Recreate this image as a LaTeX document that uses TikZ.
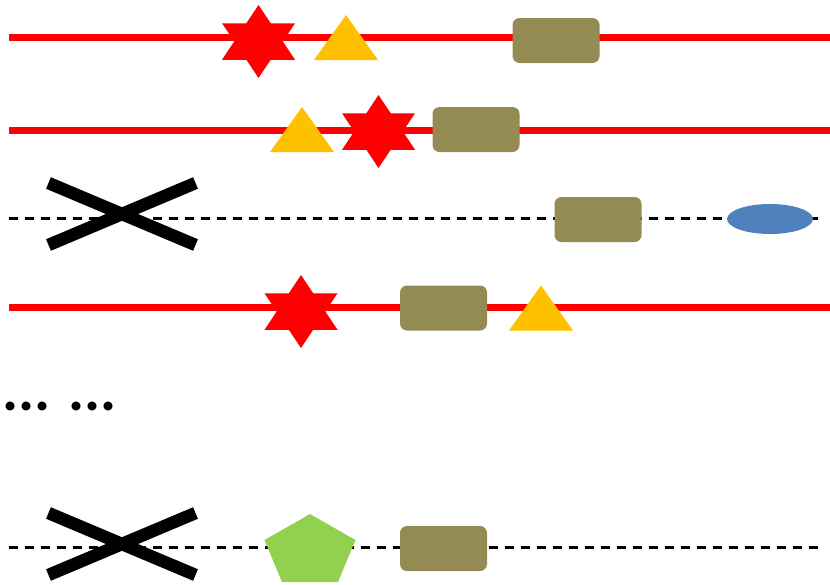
\documentclass[tikz,border=0pt]{standalone}
\usepackage{fontspec}
\setmainfont{Carlito}
\usetikzlibrary{shapes.geometric}
\definecolor{blockfill}{HTML}{948A54}
\definecolor{trifill}{HTML}{FFC000}
\definecolor{ovalfill}{HTML}{4F81BD}
\definecolor{pentfill}{HTML}{92D050}
\tikzset{
  track/.style={draw=red, line width=7pt},
  stub/.style={draw=black, line width=3pt, dash pattern=on 9pt off 7pt},
  knock/.style={draw=black, line width=12.5pt},
  block/.style={fill=blockfill, rounded corners=7pt, minimum width=87pt,
    minimum height=45pt, inner sep=0pt, draw=none},
  oval/.style={ellipse, fill=ovalfill, minimum width=86pt, minimum height=30pt,
    inner sep=0pt, draw=none},
  hexstar/.pic={
    \fill[red] (0,-36.5) -- (-36.5,18.25) -- (36.5,18.25) -- cycle;
    \fill[red] (0,36.5) -- (-36.5,-18.25) -- (36.5,-18.25) -- cycle;
  },
  tri/.pic={
    \fill[trifill] (0,-22.5) -- (32,22.5) -- (-32,22.5) -- cycle;
  },
  cross/.pic={
    \draw[knock] (-73.5,-31) -- (73.5,31);
    \draw[knock] (-73.5,31) -- (73.5,-31);
  }
}
\begin{document}
\begin{tikzpicture}[x=1pt, y=-1pt]
\useasboundingbox (0,0) rectangle (830,584);
\clip (0,0) rectangle (830,584);

% row 1
\draw[track] (9,37) -- (830,37);
\pic at (258.5,41.5) {hexstar};
\pic at (346,37.5) {tri};
\node[block] (b1) at (556,40.5) {};

% row 2
\draw[track] (9,130) -- (830,130);
\pic at (302,129.5) {tri};
\pic at (378.5,131.5) {hexstar};
\node[block] (b2) at (476,129.5) {};

% row 3
\draw[stub] (9,218) -- (824,218);
\pic at (122,214) {cross};
\node[block] (b3) at (598,219.5) {};
\node[oval] (o3) at (770,219) {};

% row 4
\draw[track] (9,307.5) -- (830,307.5);
\pic at (301,311.5) {hexstar};
\node[block] (b4) at (443.5,308) {};
\pic at (541,308) {tri};

% omitted rows
\node[anchor=base west, inner sep=0pt, font=\bfseries\fontsize{60}{60}\selectfont]
  (gap) at (2,410) {... ...};

% last row
\draw[stub] (9,547.5) -- (824,547.5);
\pic at (122,544) {cross};
\fill[pentfill] (310,514) -- (355.5,540) -- (338,582) -- (282,582) -- (264.5,540) -- cycle;
\node[block] (b6) at (443.5,548.5) {};
\end{tikzpicture}
\end{document}
